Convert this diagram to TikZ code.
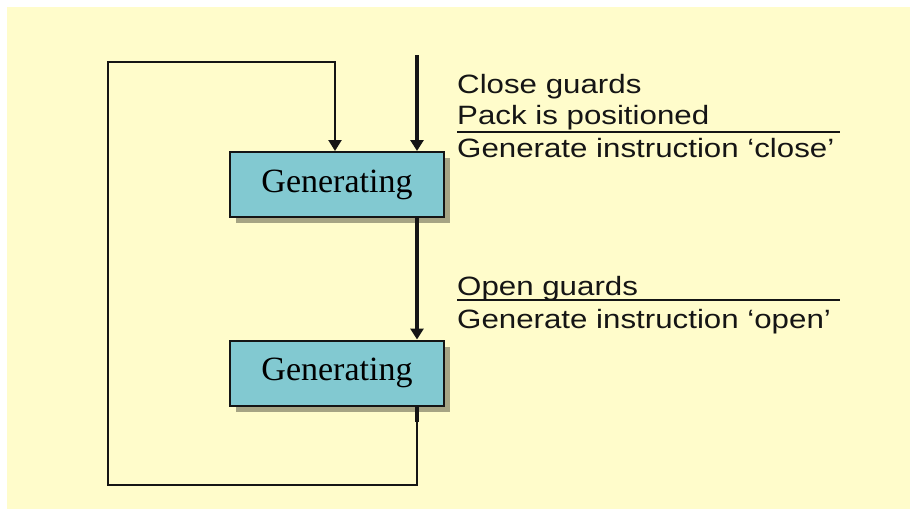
\documentclass[tikz,border=0pt]{standalone}
\usepackage{fontspec}
\setmainfont{Liberation Serif}
\newfontfamily\labelfont[FakeStretch=1.18]{Liberation Sans}
\usetikzlibrary{arrows.meta,shadows}
\definecolor{bgyellow}{HTML}{FFFCCB}
\definecolor{boxteal}{HTML}{82C9D1}
\definecolor{ink}{HTML}{151515}
\tikzset{
  statebox/.style={draw=ink, line width=2pt, fill=boxteal, minimum width=214pt, minimum height=65pt,
    inner sep=0pt, font=\fontsize{34}{36}\selectfont,
    drop shadow={shadow xshift=6pt, shadow yshift=-6pt, fill=black, opacity=0.35}},
  mainarrow/.style={draw=ink, line width=3.2pt, -{Triangle[width=13pt,length=11pt]}},
  loopline/.style={draw=ink, line width=2.3pt},
  looparrow/.style={loopline, -{Triangle[width=13pt,length=11pt]}},
  lbl/.style={anchor=base west, inner sep=0pt, font=\labelfont\fontsize{26.5}{29}\selectfont, text=ink},
  sepline/.style={draw=ink, line width=2.2pt}
}
\begin{document}
\begin{tikzpicture}[x=1pt,y=-1pt]
\useasboundingbox (0,0) rectangle (910,509);
\fill[white] (0,0) rectangle (910,509);
\fill[bgyellow] (7,7) rectangle (910,509);

\node[statebox] (b1) at (337,184.5) {Generating};
\node[statebox] (b2) at (337,373) {Generating};

\coordinate (in) at (417,55);
\coordinate (tl) at (108,62);
\coordinate (tr) at (335,62);
\coordinate (bl) at (108,485);
\coordinate (stub) at (417,422);

\draw[mainarrow] (in) -- (in |- b1.north);
\draw[mainarrow] (in |- b1.south) -- (in |- b2.north);
\draw[loopline, line width=4pt] (in |- b2.south) -- (stub);
\draw[looparrow] (stub) -- (in |- bl) -- (bl) -- (tl) -- (tr) -- (tr |- b1.north);

\node[lbl] (t1) at (457,93) {Close guards};
\node[lbl] (t2) at (457,124.5) {Pack is positioned};
\node[lbl] (t3) at (457,157.5) {Generate instruction ‘close’};
\draw[sepline] (457,132) -- (840,132);

\node[lbl] (t4) at (457,295) {Open guards};
\node[lbl] (t5) at (457,328) {Generate instruction ‘open’};
\draw[sepline] (457,300) -- (840,300);
\end{tikzpicture}
\end{document}
